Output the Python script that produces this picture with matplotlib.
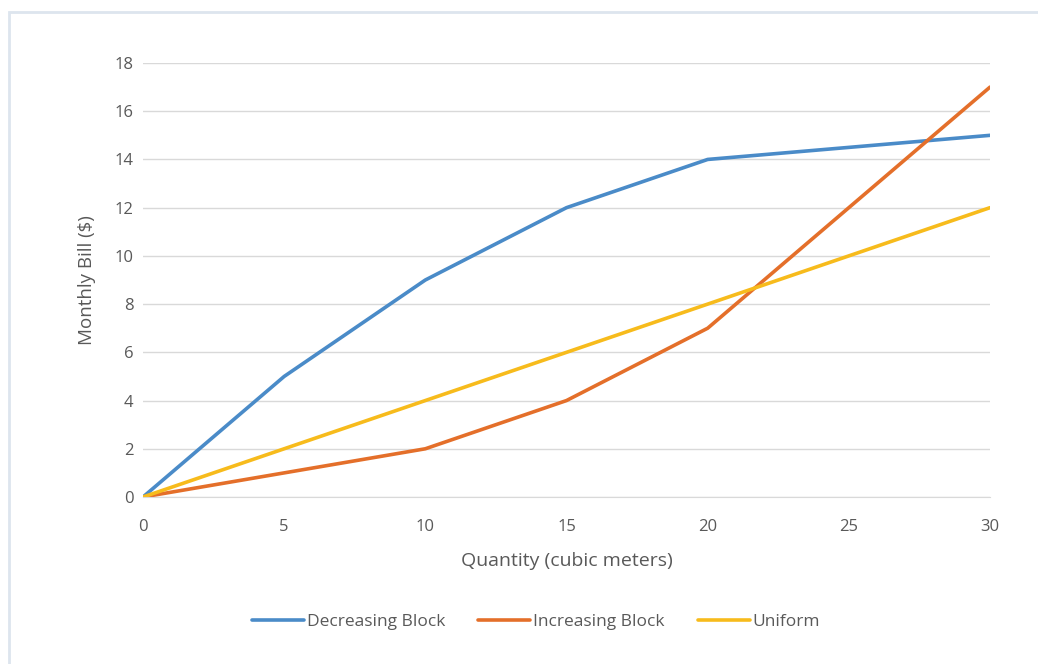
import matplotlib
matplotlib.use("Agg")
import matplotlib.pyplot as plt
from matplotlib.patches import Rectangle

quantity = [0, 5, 10, 15, 20, 25, 30]
decreasing_block = [0, 5, 9, 12, 14, 14.5, 15]
increasing_block = [0, 1, 2, 4, 7, 12, 17]
uniform = [0, 2, 4, 6, 8, 10, 12]
x_ticks = [0, 5, 10, 15, 20, 25, 30]
y_ticks = [0, 2, 4, 6, 8, 10, 12, 14, 16, 18]

plt.rcParams['font.family'] = ['Open Sans', 'DejaVu Sans']

W, H = 1038, 664
fig = plt.figure(figsize=(W / 100, H / 100), dpi=100)
fig.patch.set_facecolor('white')

# outer chart border
fig.add_artist(Rectangle((8.5 / W, -0.05), 1.2, 1 - 11.5 / H + 0.05,
                         transform=fig.transFigure, fill=False,
                         edgecolor='#dde5ee', linewidth=2))

ax = fig.add_axes([143 / W, 1 - 497 / H, (990 - 143) / W, (497 - 63) / H])
text_col = '#595959'
ax.plot(quantity, decreasing_block, color='#4a8bc8', lw=2.6, label='Decreasing Block', solid_capstyle='round')
ax.plot(quantity, increasing_block, color='#e46f2a', lw=2.6, label='Increasing Block', solid_capstyle='round')
ax.plot(quantity, uniform, color='#f7bb1c', lw=2.6, label='Uniform', solid_capstyle='round')

ax.set_xlim(0, 30)
ax.set_ylim(0, 18)
ax.set_xticks(x_ticks)
ax.set_yticks(y_ticks)
ax.grid(axis='y', color='#d9d9d9', lw=1)
ax.set_axisbelow(True)
for s in ['top', 'right', 'left']:
    ax.spines[s].set_visible(False)
ax.spines['bottom'].set_color('#d9d9d9')
ax.tick_params(length=0, labelsize=12, labelcolor=text_col)
ax.tick_params(axis='y', pad=7)
ax.tick_params(axis='x', pad=16)
ax.set_xlabel('Quantity (cubic meters)', fontsize=14, color=text_col, labelpad=12)
ax.set_ylabel('Monthly Bill ($)', fontsize=13.5, color=text_col, labelpad=13)

leg = fig.legend(loc='center', bbox_to_anchor=(536 / W, 1 - 622 / H), ncol=3,
                 frameon=False, fontsize=12.5, handlelength=3.0, columnspacing=1.9,
                 handletextpad=0.15, labelcolor=text_col)

fig.savefig('out.png', dpi=100, facecolor='white')
